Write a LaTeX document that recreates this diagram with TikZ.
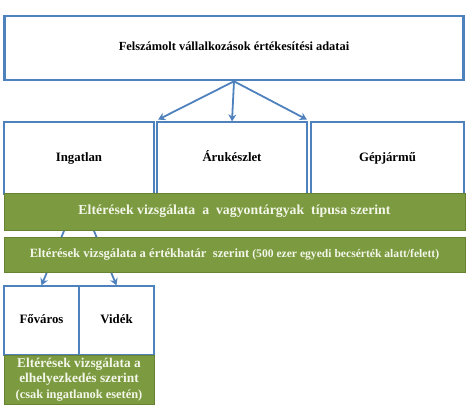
\documentclass[tikz,border=0pt]{standalone}
\usepackage{fontspec}
\setmainfont{Liberation Serif}
\usetikzlibrary{arrows.meta}
\definecolor{boxblue}{RGB}{79, 129, 189}
\definecolor{bandgreen}{RGB}{124, 155, 64}
\definecolor{bandedge}{RGB}{104, 130, 52}
\definecolor{bandtext}{RGB}{244, 246, 234}

\begin{document}
\begin{tikzpicture}[x=1pt,y=-1pt,
    blue box/.style={draw=boxblue,line width=1.2pt,fill=white,font=\bfseries\fontsize{12.8}{14}\selectfont,inner sep=0pt,text height=9pt,text depth=3pt},
    green band/.style={draw=bandedge,line width=1pt,fill=bandgreen,text=bandtext,font=\bfseries\fontsize{13.8}{15}\selectfont,inner sep=0pt,text height=9.5pt,text depth=3pt},
    link/.style={draw=boxblue,line width=1.8pt,-{Stealth[length=7pt,width=8pt]}}]
            \useasboundingbox (0,0) rectangle (468,412);
            % top
            \node[blue box,line width=2.6pt,minimum width=459pt,minimum height=64pt,font=\bfseries\fontsize{12.4}{14}\selectfont] (adatok) at (234,48) {Felszámolt vállalkozások értékesítési adatai};
            
            % asset types
            \node[blue box,minimum width=150pt,minimum height=72pt] (ingatlan) at (79,158) {Ingatlan};
            \node[blue box,minimum width=150pt,minimum height=72pt] (aru) at (232,158) {Árukészlet};
            \node[blue box,minimum width=153pt,minimum height=72pt] (gep) at (387.5,158) {Gépjármű};
            \draw[link,shorten >=4pt] (adatok.south) -- (ingatlan.north east);
            \draw[link] (adatok.south) -- (aru.north);
            \draw[link,shorten >=4pt] (adatok.south) -- (gep.north west);
            
            % location
            \node[blue box,minimum width=75pt,minimum height=69pt] (fovaros) at (41.5,320.5) {Főváros};
            \node[blue box,minimum width=75pt,minimum height=69pt] (videk) at (116.5,320.5) {Vidék};
            \draw[link] (ingatlan.south) -- (fovaros.north);
            \draw[link] (ingatlan.south) -- (videk.north);
            
            % bands
            \node[green band,minimum width=461pt,minimum height=37pt] (tipus) at (234.5,211.5) {Eltérések vizsgálata\ \ a\ \ vagyontárgyak\ \ típusa\ szerint};
            \node[green band,minimum width=461pt,minimum height=35pt,font=\bfseries\fontsize{12.6}{15}\selectfont] (ertek) at (234.5,254.5) {Eltérések vizsgálata a értékhatár\ \ szerint {\fontsize{11.6}{13}\selectfont(500 ezer egyedi becsérték alatt/felett)}};
            \node[green band,minimum width=150pt,minimum height=49pt,align=center,text height=,text depth=,font=\bfseries\fontsize{13.4}{15.5}\selectfont] (hely) at (79,379.5) {Eltérések vizsgálata a\\elhelyezkedés szerint\\{\fontsize{12.4}{15.5}\selectfont(csak ingatlanok esetén)}};
        \end{tikzpicture}
\end{document}
